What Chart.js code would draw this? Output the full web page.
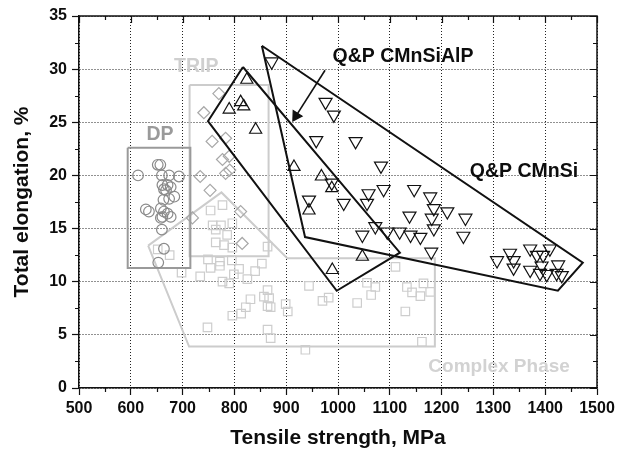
<!DOCTYPE html>
<html><head><meta charset="utf-8">
<script src="https://cdn.jsdelivr.net/npm/chart.js@4.4.0/dist/chart.umd.min.js"></script>
<style>html,body{margin:0;padding:0;background:#fff;}#wrap{width:631px;height:453px;}</style>
</head><body><div id="wrap"><canvas id="c" width="631" height="453"></canvas></div>
<script>
// ---- axis ticks ----
const xTickLabels = [500,600,700,800,900,1000,1100,1200,1300,1400,1500];
const yTickLabels = [0,5,10,15,20,25,30,35];

// ---- DP (circles) ----
const dpX = [614,652,657,660,674,693,661,671,677,668,664,684,674,663,629,635,658,664,671,677,661,658,660,664,653];
const dpY = [20.0,21.0,21.0,20.0,20.0,19.9,19.1,19.1,18.9,18.6,18.7,18.0,17.8,17.7,16.8,16.6,16.9,16.6,16.4,16.1,16.1,16.0,14.9,13.1,11.8];

// ---- TRIP (diamonds) ----
const tripX = [770,741,757,783,777,790,783,791,734,753,812,719,815];
const tripY = [27.7,25.9,23.2,23.5,21.5,21.8,20.2,20.5,19.9,18.6,16.6,16.0,13.6];

// ---- Complex Phase (squares) ----
const cpX = [777,754,758,774,796,764,786,764,780,796,864,652,675,749,772,795,754,772,799,809,777,790,825,840,853,734,698,864,867,857,864,870,831,822,813,796,899,903,748,864,870,1111,944,1056,1072,1064,1037,970,982,1133,1143,1159,1165,1178,1130,937,1162];
const cpY = [17.2,16.7,15.3,15.3,15.5,14.9,14.4,13.7,13.45,13.2,13.3,13.05,12.5,12.1,11.9,12.0,11.3,11.5,10.7,11.2,10.0,9.85,10.25,11.0,11.7,10.5,10.85,9.2,8.45,8.6,7.7,7.6,8.35,7.6,7.0,6.8,7.9,7.2,5.7,5.5,4.7,11.4,9.6,9.9,9.5,8.75,8.0,8.2,8.5,9.5,9.0,8.65,9.85,9.05,7.2,3.6,4.35];

// ---- Q&P CMnSiAlP (up triangles) ----
const alpX = [824,812,818,790,841,915,968,988,944,1047,989];
const alpY = [29.0,26.9,26.5,26.2,24.3,20.8,19.9,18.8,16.7,12.35,11.1];

// ---- Q&P CMnSi (down triangles) ----
const siX = [872,976,992,958,1034,1083,988,944,1011,1059,1088,1056,1147,1178,1185,1211,1138,1181,1185,1047,1072,1095,1119,1140,1159,1180,1246,1242,1307,1332,1339,1339,1371,1384,1396,1409,1371,1390,1403,1422,1432,1425,1393];
const siY = [30.7,26.9,25.7,23.3,23.2,20.9,19.3,17.7,17.4,18.3,18.7,17.4,18.7,18.0,16.9,16.6,16.2,16.0,15.0,14.4,15.2,14.7,14.7,14.4,14.2,12.8,16.0,14.3,12.0,12.7,12.0,11.3,13.1,12.5,12.5,13.1,11.1,10.8,10.7,10.8,10.6,11.6,11.5];

// ---- region outlines ----
const dpBoxX = [594,715,715,594,594];
const dpBoxY = [22.6,22.6,11.3,11.3,22.6];
const tripBoxX = [713.5,866,866,713.5,713.5];
const tripBoxY = [28.5,28.5,12.4,12.4,28.5];
const cpPolyX = [633.5,775,902,1187,1187,712.5,633.5];
const cpPolyY = [13.4,18.4,12.2,12.2,3.9,3.9,13.4];
const alpPolyX = [816.5,749,997.5,1119.5,816.5];
const alpPolyY = [30.2,25.1,9.15,12.73,30.2];
const siPolyX = [853,1472.6,1424.5,936.4,853];
const siPolyY = [32.2,11.8,9.15,14.2,32.2];
const arrowX = [975,919];
const arrowY = [29.9,25.6];

const pts = (xs, ys) => xs.map((x, i) => ({x, y: ys[i]}));

const FONT = "'Liberation Sans', Arial, Helvetica, sans-serif";
const TXT = '#0d0d0d';
const annotations = [
  {text:'Q&P CMnSiAlP', x:1125.5, y:30.7, color:TXT, size:19.5},
  {text:'Q&P CMnSi', x:1359, y:19.88, color:TXT, size:19.5},
  {text:'TRIP', x:726.5, y:29.7, color:'#cfcfcf', size:19.5},
  {text:'DP', x:656.5, y:23.33, color:'#9a9a9a', size:19.5},
  {text:'Complex Phase', x:1311, y:1.53, color:'#d2d2d2', size:19}
];

const framePlugin = {
  id: 'frame',
  afterDatasetsDraw(chart) {
    const {ctx, chartArea: a, scales: {x, y}} = chart;
    ctx.save();
    ctx.strokeStyle = '#111';
    ctx.lineWidth = 1.5;
    ctx.beginPath();
    ctx.moveTo(a.left, a.top); ctx.lineTo(a.right, a.top); ctx.lineTo(a.right, a.bottom);
    ctx.stroke();
    ctx.lineWidth = 1.2;
    ctx.beginPath();
    for (let v = 500; v <= 1500; v += 50) {
      const px = Math.round(x.getPixelForValue(v)) + 0.5;
      const major = v % 100 === 0;
      const len = major ? 7 : 4;
      ctx.moveTo(px, a.top); ctx.lineTo(px, a.top + len);
      if (!major) { ctx.moveTo(px, a.bottom); ctx.lineTo(px, a.bottom + len); }
    }
    for (let v = 0; v <= 35; v += 2.5) {
      const py = Math.round(y.getPixelForValue(v)) + 0.5;
      const major = v % 5 === 0;
      const len = major ? 7 : 4;
      ctx.moveTo(a.right, py); ctx.lineTo(a.right - len, py);
      if (!major) { ctx.moveTo(a.left, py); ctx.lineTo(a.left - len, py); }
    }
    ctx.stroke();
    ctx.textAlign = 'center';
    ctx.textBaseline = 'alphabetic';
    annotations.forEach(an => {
      ctx.font = 'bold ' + an.size + 'px ' + FONT;
      ctx.fillStyle = an.color;
      ctx.fillText(an.text, x.getPixelForValue(an.x), y.getPixelForValue(an.y));
    });
    ctx.restore();
  }
};

const outline = (xs, ys, color, w) => ({
  data: pts(xs, ys), showLine: true, borderColor: color, borderWidth: w,
  pointRadius: 0, fill: false, tension: 0
});
const markers = (xs, ys, style, r, color, extra) => Object.assign({
  data: pts(xs, ys), pointStyle: style, pointRadius: r, borderColor: color,
  backgroundColor: 'rgba(0,0,0,0)', pointBorderWidth: 1.2, showLine: false
}, extra || {});

new Chart(document.getElementById('c'), {
  type: 'scatter',
  data: {
    datasets: [
      outline(siPolyX, siPolyY, '#111', 2),
      outline(alpPolyX, alpPolyY, '#111', 2),
      outline(arrowX, arrowY, '#111', 1.6),
      markers([arrowX[1]], [arrowY[1]], 'triangle', 6, '#111', {backgroundColor:'#111', rotation: 212}),
      markers(siX, siY, 'triangle', 7.5, '#111', {rotation: 180}),
      markers(alpX, alpY, 'triangle', 7, '#111'),
      markers(dpX, dpY, 'circle', 5.3, '#8a8a8a'),
      outline(dpBoxX, dpBoxY, '#9a9a9a', 2),
      markers(tripX, tripY, 'rectRot', 6, '#a8a8a8'),
      outline(tripBoxX, tripBoxY, '#cccccc', 2),
      markers(cpX, cpY, 'rect', 6, '#cdcdcd'),
      outline(cpPolyX, cpPolyY, '#cccccc', 2)
    ]
  },
  options: {
    responsive: false,
    animation: false,
    events: [],
    layout: {padding: {top: 16, right: 34, left: 0, bottom: 0}},
    plugins: {legend: {display: false}, tooltip: {enabled: false}},
    scales: {
      x: {
        type: 'linear', min: 500, max: 1500,
        afterFit(s) { s.height = 65; },
        afterBuildTicks(s) { s.ticks = []; for (let v = 500; v <= 1500; v += 50) s.ticks.push({value: v}); },
        ticks: {
          autoSkip: false, maxRotation: 0, minRotation: 0, padding: 4, color: TXT,
          font: {family: FONT, size: 16, weight: 'bold'},
          callback: v => xTickLabels.includes(v) ? String(v) : ''
        },
        grid: {
          color: c => (c.tick && c.tick.value % 100 === 0) ? '#222' : 'rgba(0,0,0,0)',
          lineWidth: 1, tickLength: 7, tickWidth: 1.2,
          tickColor: c => (c.tick && c.tick.value % 100 === 0) ? '#111' : 'rgba(0,0,0,0)'
        },
        border: {display: true, color: '#111', width: 1.5, dash: [1, 2]},
        title: {display: true, text: 'Tensile strength, MPa', color: TXT,
          font: {family: FONT, size: 21, weight: 'bold'}, padding: {top: 0, bottom: 2}}
      },
      y: {
        type: 'linear', min: 0, max: 35,
        afterFit(s) { s.width = 79; },
        afterBuildTicks(s) { s.ticks = []; for (let v = 0; v <= 35; v += 2.5) s.ticks.push({value: v}); },
        ticks: {
          autoSkip: false, padding: 5, color: TXT,
          font: {family: FONT, size: 16, weight: 'bold'},
          callback: v => yTickLabels.includes(v) ? String(v) : ''
        },
        grid: {
          color: c => (c.tick && c.tick.value % 5 === 0) ? '#222' : 'rgba(0,0,0,0)',
          lineWidth: 1, tickLength: 7, tickWidth: 1.2,
          tickColor: c => (c.tick && c.tick.value % 5 === 0) ? '#111' : 'rgba(0,0,0,0)'
        },
        border: {display: true, color: '#111', width: 1.5, dash: [1, 2]},
        title: {display: true, text: 'Total elongation, %', color: TXT,
          font: {family: FONT, size: 21, weight: 'bold'}, padding: {top: 10, bottom: 0}}
      }
    }
  },
  plugins: [framePlugin]
});
</script></body></html>
